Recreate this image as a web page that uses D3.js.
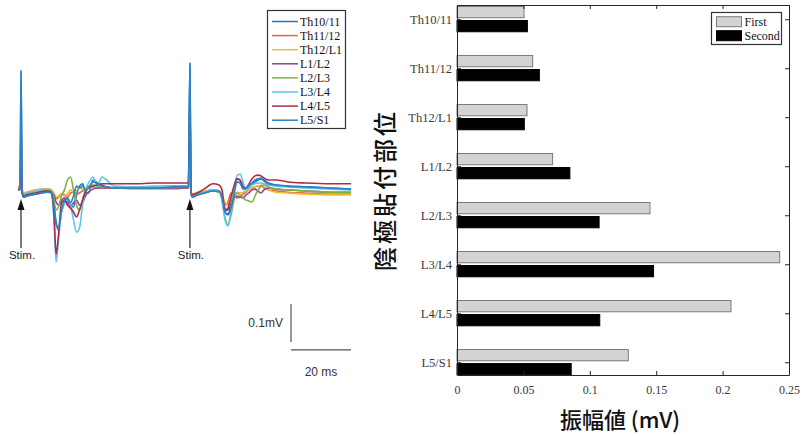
<!DOCTYPE html>
<html lang="ja">

<head>
    <meta charset="UTF-8" />
    <title>SEP waveforms and amplitudes</title>
    <script src="https://d3js.org/d3.v7.min.js"></script>
    <style>
        body {
            margin: 0;
            background: #fff;
        }

        .serif {
            font-family: "Liberation Serif", "Times New Roman", serif;
        }

        .sans {
            font-family: "Liberation Sans", Arial, sans-serif;
        }
    </style>
</head>

<body>
    <svg id="figure" width="803" height="436"></svg>
    <script>
        // waveform samples, time in ms, amplitude in microvolts
        const timeMs = [0, 0.7, 1.0, 1.4, 1.8, 3, 6, 10, 11,
            12, 12.7, 13.5, 14.5, 15.5, 16.5, 17.5, 18.5, 19.5, 20.5, 21.5, 22.5, 23.5, 25, 26.5, 28, 29.5, 32,
            38, 46, 52, 56, 56.8,
            57.3,
            57.7, 58.2, 59, 62, 65,
            67, 68, 69, 70, 71, 72, 73, 74, 75, 76, 77, 78, 79, 80, 81, 82, 83.5, 86, 90, 96, 104, 111];

        const th10_11 = [-5, -5, 311, -13, -24, -21, -16, -11, -11,
            -45, -89, -111, -63, -39, -29, -45, -50, -18, 5, 11, -11, -13, 21, 13, 8, 3, 0,
            3, 3, 5, 5, 5,
            329,
            -16, -24, -21, -13, -8,
            -8, -26, -66, -68, -45, -5, 24, 21, 5, -5, 3, 11, 16, 21, 24, 21, 13, 8, 5, 3, 0, -3];

        const th11_12 = [3, 3, 21, -5, -13, -11, -5, -3, -5,
            -16, -29, -24, -16, -18, -24, -13, -11, -16, -13, -8, -5, 0, 3, 0, 0, 0, 0,
            0, -3, -3, 0, 0,
            16,
            -11, -18, -16, -11, -5,
            -8, -18, -45, -37, -13, -18, -26, -24, -16, -11, -5, 0, 3, 5, 5, 0, -5, -8, -11, -13, -16, -16];

        const th12_l1 = [0, 0, 66, -5, -13, -11, -5, -3, -5,
            -13, -24, -21, -16, -21, -16, -5, -11, -5, 0, -3, 0, 0, 3, 0, 0, 0, 0,
            -3, -3, -3, 0, 0,
            68,
            -11, -16, -13, -8, -5,
            -8, -16, -39, -45, -24, -16, -11, -13, -11, -8, -5, 0, 3, 5, 8, 3, -5, -11, -13, -16, -18, -18];

        const l1_l2 = [-3, -3, 74, -11, -18, -16, -11, -5, -8,
            -21, -37, -45, -32, -26, -37, -47, -39, -32, -45, -39, -21, -11, -3, 0, 0, 0, 0,
            0, 0, 0, 0, 0,
            82,
            -13, -21, -18, -13, -8,
            -11, -21, -53, -58, -42, -26, -21, -24, -26, -18, -13, -5, -3, -8, -13, -5, 0, -3, -5, -8, -11, -11];

        const l2_l3 = [-3, -3, 100, -11, -18, -16, -11, -5, -8,
            -32, -58, -50, -21, -5, 21, 29, -5, -45, -58, -32, -5, 5, 8, 5, 3, 3, 0,
            0, 0, 3, 3, 3,
            121,
            -13, -21, -18, -13, -8,
            -11, -32, -79, -97, -71, -32, -13, -18, -26, -32, -34, -37, -21, -5, 5, 8, 3, -3, -5, -8, -11, -11];

        const l3_l4 = [0, 0, 134, -8, -18, -13, -8, -3, -5,
            -84, -195, -137, -63, -39, -32, -45, -84, -116, -105, -45, -5, 13, 29, 5, 29, 21, 5,
            3, 5, 5, 5, 5,
            179,
            -13, -21, -18, -11, -5,
            -8, -32, -84, -100, -58, -5, 32, 37, 16, -5, 0, 8, 11, 13, 13, 11, 8, 5, 3, 0, -3, -5];

        const l4_l5 = [-3, -3, 171, -11, -21, -18, -13, -8, -11,
            -71, -174, -124, -39, -32, -45, -53, -63, -76, -58, -32, -11, 0, 5, 8, 11, 11, 11,
            11, 13, 13, 13, 13,
            232,
            -11, -18, -16, -3, 11,
            8, -5, -61, -53, -24, 5, 24, 21, 3, 0, 11, 24, 32, 34, 32, 26, 21, 21, 16, 13, 11, 11];

        const l5_s1 = [-5, -5, 305, -13, -24, -21, -16, -11, -13,
            -50, -97, -105, -58, -32, -26, -39, -21, 5, 0, 5, -5, 0, 16, 11, 5, 3, 0,
            0, 0, 3, 3, 3,
            321,
            -16, -24, -21, -13, -8,
            -8, -24, -63, -71, -53, -18, 16, 13, -3, 0, 8, 13, 21, 24, 26, 18, 11, 8, 5, 3, 0, -3];

        const traceNames = ["Th10/11", "Th11/12", "Th12/L1", "L1/L2", "L2/L3", "L3/L4", "L4/L5", "L5/S1"];
        const stimMs = [1.0, 57.3];

        // bar chart: amplitude per cathode site
        const levels = ["Th10/11", "Th11/12", "Th12/L1", "L1/L2", "L2/L3", "L3/L4", "L4/L5", "L5/S1"];
        const firstAmp = [0.0505, 0.057, 0.0527, 0.072, 0.1453, 0.243, 0.2063, 0.129];
        const secondAmp = [0.053, 0.062, 0.0507, 0.085, 0.107, 0.148, 0.1075, 0.086];
        const ampTicks = [0, 0.05, 0.1, 0.15, 0.2, 0.25];
        const ampTickLabels = ["0", "0.05", "0.1", "0.15", "0.2", "0.25"];

        const palette = ["#1f78c1", "#e06a3a", "#efb935", "#8a45a0", "#80b23e", "#5cc4ee", "#ad2b45", "#2a82c8"];

        const svg = d3.select("svg#figure");

        // ---------- left panel: waveforms ----------
        {
            const xWave = d3.scaleLinear().domain([0, 111]).range([18, 351]);
            const yWave = d3.scaleLinear().domain([-200, 350]).range([264, 55]);

            const traces = [th10_11, th11_12, th12_l1, l1_l2, l2_l3, l3_l4, l4_l5, l5_s1].map((values, i) => ({
                name: traceNames[i],
                values: values,
            }));

            const lineGen = d3
                .line()
                .x((d, i) => xWave(timeMs[i]))
                .y((d) => yWave(d))
                .curve(d3.curveMonotoneX);

            const wave = svg.append("g").attr("id", "waves");

            wave
                .selectAll("path.trace")
                .data(traces)
                .join("path")
                .attr("class", "trace")
                .attr("fill", "none")
                .attr("stroke", (d, i) => palette[i])
                .attr("stroke-width", 1.6)
                .attr("stroke-linejoin", "round")
                .attr("d", (d) => lineGen(d.values));

            // stimulus arrows
            wave
                .selectAll("line.stim")
                .data(stimMs)
                .join("line")
                .attr("class", "stim")
                .attr("x1", (d) => xWave(d))
                .attr("x2", (d) => xWave(d))
                .attr("y1", 248)
                .attr("y2", 207)
                .attr("stroke", "#333")
                .attr("stroke-width", 1.3);

            wave
                .selectAll("path.arrowhead")
                .data(stimMs)
                .join("path")
                .attr("class", "arrowhead")
                .attr("d", (d) => {
                    const x = xWave(d);
                    return `M${x},199 L${x - 3.5},210 L${x + 3.5},210 Z`;
                })
                .attr("fill", "#111");

            wave
                .selectAll("text.stim")
                .data(stimMs)
                .join("text")
                .attr("class", "stim sans")
                .attr("x", (d) => xWave(d) + 1)
                .attr("y", 259)
                .attr("text-anchor", "middle")
                .attr("font-size", 11.5)
                .attr("fill", "#222")
                .text("Stim.");

            // scale bar: 0.1 mV and 20 ms
            const barX = xWave(91);
            wave.append("line")
                .attr("x1", barX).attr("x2", barX)
                .attr("y1", yWave(-305)).attr("y2", yWave(-405))
                .attr("stroke", "#555").attr("stroke-width", 1.2);
            wave.append("line")
                .attr("x1", barX).attr("x2", xWave(111))
                .attr("y1", yWave(-426)).attr("y2", yWave(-426))
                .attr("stroke", "#555").attr("stroke-width", 1.2);
            wave.append("text")
                .attr("class", "sans")
                .attr("x", barX - 8).attr("y", yWave(-355) + 4)
                .attr("text-anchor", "end")
                .attr("font-size", 12)
                .attr("fill", "#333")
                .text("0.1mV");
            wave.append("text")
                .attr("class", "sans")
                .attr("x", (barX + xWave(111)) / 2).attr("y", yWave(-426) + 26)
                .attr("text-anchor", "middle")
                .attr("font-size", 12)
                .attr("fill", "#333")
                .text("20 ms");

            // legend
            const legend = svg.append("g").attr("id", "wave-legend");
            legend.append("rect")
                .attr("x", 267.5).attr("y", 10.5)
                .attr("width", 78).attr("height", 118)
                .attr("fill", "#fff")
                .attr("stroke", "#333").attr("stroke-width", 1.2);
            const rows = legend
                .selectAll("g.row")
                .data(traceNames)
                .join("g")
                .attr("class", "row")
                .attr("transform", (d, i) => `translate(0,${21.5 + i * 14.1})`);
            rows.append("line")
                .attr("x1", 272).attr("x2", 298)
                .attr("stroke", (d, i) => palette[i])
                .attr("stroke-width", 1.5);
            rows.append("text")
                .attr("class", "serif")
                .attr("x", 300).attr("y", 4)
                .attr("font-size", 12)
                .attr("fill", "#111")
                .text((d) => d);
        }

        // ---------- right panel: amplitude bars ----------
        {
            const xAmp = d3.scaleLinear().domain([0, 0.25]).range([457, 789]);
            const yLevel = d3.scaleLinear().domain([0.71, 8.26]).range([5, 375]);
            const step = yLevel(2) - yLevel(1);
            const barH = step * 0.23;
            const levelIdx = levels.map((d, i) => i + 1);

            const bars = svg.append("g").attr("id", "bars");

            bars
                .selectAll("rect.first")
                .data(firstAmp)
                .join("rect")
                .attr("class", "first")
                .attr("x", xAmp(0))
                .attr("y", (d, i) => yLevel(i + 1) - step * 0.26)
                .attr("width", (d) => xAmp(d) - xAmp(0))
                .attr("height", barH)
                .attr("fill", "#d3d3d3")
                .attr("stroke", "#7a7a7a")
                .attr("stroke-width", 1);

            bars
                .selectAll("rect.second")
                .data(secondAmp)
                .join("rect")
                .attr("class", "second")
                .attr("x", xAmp(0))
                .attr("y", (d, i) => yLevel(i + 1) + step * 0.026)
                .attr("width", (d) => xAmp(d) - xAmp(0))
                .attr("height", barH)
                .attr("fill", "#000")
                .attr("stroke", "#000")
                .attr("stroke-width", 1);

            const axisColor = "#262626";
            const styleAxis = (g) => {
                g.select(".domain").attr("stroke", axisColor);
                g.selectAll(".tick line").attr("stroke", axisColor);
                g.selectAll(".tick text").attr("fill", "#3a3a3a");
                g.attr("font-family", null).attr("font-size", null);
            };

            const bottomAxis = d3.axisBottom(xAmp)
                .tickValues(ampTicks)
                .tickFormat((d, i) => ampTickLabels[i])
                .tickSize(-4).tickSizeOuter(0).tickPadding(10);
            svg.append("g")
                .attr("class", "x axis serif")
                .attr("transform", "translate(0,375)")
                .call(bottomAxis)
                .call(styleAxis)
                .attr("font-size", 12);

            const topAxis = d3.axisTop(xAmp)
                .tickValues(ampTicks).tickFormat("")
                .tickSize(-4).tickSizeOuter(0);
            svg.append("g")
                .attr("class", "x axis top")
                .attr("transform", "translate(0,5)")
                .call(topAxis)
                .call(styleAxis);

            const leftAxis = d3.axisLeft(yLevel)
                .tickValues(levelIdx)
                .tickFormat((d) => levels[d - 1])
                .tickSize(-4).tickSizeOuter(0).tickPadding(5);
            svg.append("g")
                .attr("class", "y axis serif")
                .attr("transform", `translate(${xAmp(0)},0)`)
                .call(leftAxis)
                .call(styleAxis)
                .attr("font-size", 12.5);

            const rightAxis = d3.axisRight(yLevel)
                .tickValues(levelIdx).tickFormat("")
                .tickSize(-4).tickSizeOuter(0);
            svg.append("g")
                .attr("class", "y axis right")
                .attr("transform", `translate(${xAmp(0.25)},0)`)
                .call(rightAxis)
                .call(styleAxis);

            // axis titles
            svg.append("text")
                .attr("transform", "translate(394,190) rotate(-90)")
                .attr("text-anchor", "middle")
                .attr("font-family", "'Noto Sans CJK JP', sans-serif")
                .attr("font-size", 24)
                .attr("font-weight", 500)
                .attr("letter-spacing", 3)
                .attr("fill", "#111")
                .text("陰極貼付部位");

            svg.append("text")
                .attr("x", 620).attr("y", 428)
                .attr("text-anchor", "middle")
                .attr("font-family", "'Noto Sans CJK JP', sans-serif")
                .attr("font-size", 22)
                .attr("font-weight", 500)
                .attr("fill", "#111")
                .text("振幅値 (mV)");

            // legend
            const legend = svg.append("g").attr("id", "bar-legend").attr("class", "serif");
            legend.append("rect")
                .attr("x", 711.5).attr("y", 12.5)
                .attr("width", 70).attr("height", 32)
                .attr("fill", "#fff")
                .attr("stroke", "#333").attr("stroke-width", 1.2);
            const entries = [
                { label: "First", fill: "#d3d3d3", stroke: "#7a7a7a" },
                { label: "Second", fill: "#000", stroke: "#000" },
            ];
            const items = legend
                .selectAll("g.item")
                .data(entries)
                .join("g")
                .attr("class", "item")
                .attr("transform", (d, i) => `translate(0,${21.7 + i * 14})`);
            items.append("rect")
                .attr("x", 716.5).attr("y", -5)
                .attr("width", 25).attr("height", 10)
                .attr("fill", (d) => d.fill)
                .attr("stroke", (d) => d.stroke);
            items.append("text")
                .attr("x", 744.5).attr("y", 4)
                .attr("font-size", 12)
                .attr("fill", "#111")
                .text((d) => d.label);
        }
    </script>
</body>

</html>
